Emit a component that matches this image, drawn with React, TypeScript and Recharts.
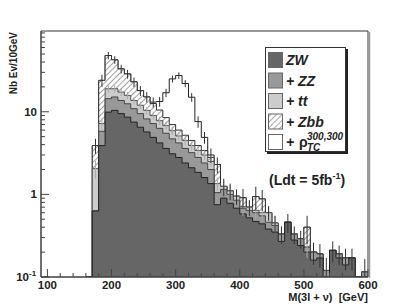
import { ComposedChart, Area, XAxis, YAxis, Scatter, ErrorBar, ReferenceArea } from "recharts";

// bin low edges, 10 GeV wide
const binLow = [
  160, 170, 180, 190, 200, 210, 220, 230, 240, 250,
  260, 270, 280, 290, 300, 310, 320, 330, 340, 350,
  360, 370, 380, 390, 400, 410, 420, 430, 440, 450,
  460, 470, 480, 490, 500, 510, 520, 530, 540, 550,
  560, 570, 580, 590,
];

// per-sample contents (events / 10 GeV)
const zw = [
  0, 0.63, 3.9, 9.9, 10.4, 9.5, 8.6, 7.5, 6.5, 5.7,
  4.9, 4.2, 3.6, 3.1, 2.8, 2.4, 2.1, 1.85, 1.6, 1.35,
  0.75, 0.9, 0.78, 0.68, 0.58, 0.52, 0.47, 0.44, 0.38, 0.35,
  0.27, 0.46, 0.28, 0.24, 0.2, 0.16, 0.17, 0, 0.21, 0.17,
  0.14, 0.17, 0, 0,
];
const zz = [
  0, 0, 1.9, 4.5, 4.7, 4.2, 3.9, 3.4, 3.0, 2.5,
  2.3, 2.1, 1.9, 1.6, 1.4, 1.2, 1.1, 0.95, 0.8, 0.65,
  0.3, 0.25, 0.22, 0.17, 0.1, 0.12, 0.13, 0.11, 0.08, 0.07,
  0.06, 0, 0.05, 0.05, 0.03, 0.04, 0.02, 0.12, 0, 0.02,
  0.03, 0, 0, 0.115,
];
const tt = [
  0, 1.42, 1.4, 4.6, 3.9, 3.6, 3.3, 2.8, 2.5, 2.2,
  1.8, 1.5, 1.3, 1.2, 0.9, 0.9, 0.7, 0.6, 0.6, 0.5,
  0.3, 0.1, 0.1, 0.1, 0.03, 0.06, 0.04, 0.05, 0.14, 0.03,
  0, 0, 0, 0, 0, 0, 0, 0, 0, 0,
  0, 0, 0, 0,
];
const zbb = [
  0, 1.85, 16.8, 29, 23.5, 15.7, 12.9, 9.3, 6, 4.7,
  3.6, 2.7, 1.7, 1.1, 0.9, 0.7, 0.6, 0.5, 0.4, 0.3,
  0.95, 0, 0, 0, 0.2, 0, 0.3, 0.28, 0, 0,
  0, 0, 0, 0, 0.17, 0, 0, 0, 0, 0,
  0, 0, 0, 0,
];
const rho = [
  0, 0, 0, 0, 0, 0, 0, 0, 0, 0,
  0.5, 2.8, 8.5, 18, 21.5, 16.8, 10.5, 3.7, 1.5, 0.2,
  0, 0, 0, 0, 0, 0, 0, 0, 0, 0,
  0, 0, 0, 0, 0, 0, 0, 0, 0, 0,
  0, 0, 0, 0,
];
// statistical error on the total
const totalErr = [
  0, 0.8, 4, 5, 4.5, 4, 3.5, 3, 2.5, 2.2,
  1.8, 1.8, 2, 2.4, 2.5, 2.2, 1.8, 1.2, 0.8, 0.6,
  0.5, 0.3, 0.25, 0.2, 0.25, 0.15, 0.3, 0.25, 0.12, 0.1,
  0.08, 0.12, 0.08, 0.07, 0.15, 0.06, 0.06, 0.05, 0.06, 0.05,
  0.05, 0.05, 0, 0.05,
];
// error on the ZW+ZZ+tt sum (grey bars)
const bkgErr = [
  0, 0.5, 1.2, 2, 2, 1.8, 1.6, 1.4, 1.2, 1.1,
  1, 0.9, 0.8, 0.7, 0.6, 0.6, 0.5, 0.45, 0.4, 0.35,
  0.25, 0.22, 0.2, 0.18, 0.16, 0.15, 0.14, 0.14, 0.12, 0.1,
  0.08, 0, 0, 0, 0.06, 0, 0, 0, 0, 0,
  0, 0, 0, 0,
];

const xTicks = [100, 120, 140, 160, 180, 200, 220, 240, 260, 280, 300, 320, 340, 360, 380, 400, 420, 440, 460, 480, 500, 520, 540, 560, 580, 600];
const yTicks = [0.1, 0.2, 0.3, 0.4, 0.5, 0.6, 0.7, 0.8, 0.9, 1, 2, 3, 4, 5, 6, 7, 8, 9, 10, 20, 30, 40, 50, 60, 70, 80, 90];

const FLOOR = 0.1;
const fl = (v: number) => Math.max(v, FLOOR);

const rows = binLow.map((lo, i) => {
  const c1 = zw[i];
  const c2 = c1 + zz[i];
  const c3 = c2 + tt[i];
  const c4 = c3 + zbb[i];
  const c5 = c4 + rho[i];
  return { x: lo, zw: fl(c1), zz: fl(c2), tt: fl(c3), zbb: fl(c4), rho: fl(c5), bkg: c3, total: c5 };
});
// close the last bin at its upper edge
rows.push({ ...rows[rows.length - 1], x: 600 });

const errRows = binLow
  .map((lo, i) => ({ lo, i }))
  .filter(({ i }) => totalErr[i] > 0)
  .map(({ lo, i }) => {
    const t = rows[i].total;
    return { x: lo + 5, total: t, err: [Math.min(totalErr[i], t - 0.101), totalErr[i]] };
  });

const bkgRows = binLow
  .map((lo, i) => ({ lo, i }))
  .filter(({ i }) => bkgErr[i] > 0)
  .map(({ lo, i }) => {
    const t = rows[i].bkg;
    return { x: lo + 5, bkg: t, err: [Math.min(bkgErr[i], t - 0.101), bkgErr[i]] };
  });

const FONT = '"Liberation Sans", Arial, Helvetica, sans-serif';
const INK = "#222";

const XTick = (props: any) => {
  const { x, y, payload } = props;
  const major = payload.value % 100 === 0;
  return (
    <g>
      <line x1={x} x2={x} y1={y} y2={y - (major ? 8 : 4)} stroke="#444" />
      {major && (
        <text x={x} y={y + 12} textAnchor="middle" fontSize={11.5} fontWeight="bold" fill={INK}>
          {payload.value}
        </text>
      )}
    </g>
  );
};

const YTick = (props: any) => {
  const { x, y, payload } = props;
  const v = payload.value;
  const major = v === 0.1 || v === 1 || v === 10;
  return (
    <g>
      <line x1={x} x2={x + (major ? 8 : 4)} y1={y} y2={y} stroke="#444" />
      {major && (
        <text x={v === 0.1 ? x - 12 : x - 4} y={y + 4} textAnchor="end" fontSize={11.5} fontWeight="bold" fill={INK}>
          {v === 0.1 ? "10" : v}
        </text>
      )}
      {v === 0.1 && (
        <text x={x - 12} y={y - 1} fontSize={8} fontWeight="bold" fill={INK}>
          -1
        </text>
      )}
    </g>
  );
};

const legendRows = [
  { label: "ZW", fill: "#666666" },
  { label: "+ ZZ", fill: "#999999" },
  { label: "+ tt", fill: "#cccccc" },
  { label: "+ Zbb", fill: "url(#hatchL)" },
  { label: "+ ", fill: "#ffffff" },
];

export default function App() {
  return (
    <div style={{ position: "absolute", left: 0, top: 0, width: 409, height: 308, background: "#fff", fontFamily: FONT }}>
      <ComposedChart width={409} height={308} data={rows} margin={{ top: 31, right: 41, bottom: 0, left: 0 }}>
        <defs>
          <pattern id="hatch" patternUnits="userSpaceOnUse" width="4" height="4" patternTransform="rotate(45)">
            <rect width="4" height="4" fill="#fff" />
            <line x1="0" y1="0" x2="0" y2="4" stroke="#444" strokeWidth="1" />
          </pattern>
        </defs>
        <XAxis
          dataKey="x"
          type="number"
          domain={[90, 600]}
          ticks={xTicks}
          interval={0}
          allowDataOverflow
          height={31}
          tickSize={0}
          tickMargin={0}
          tick={<XTick />}
          axisLine={{ stroke: "#444" }}
        />
        <YAxis
          scale="log"
          type="number"
          domain={[0.1, 95]}
          ticks={yTicks}
          interval={0}
          allowDataOverflow
          width={41}
          tickSize={0}
          tickMargin={0}
          tick={<YTick />}
          axisLine={{ stroke: "#444" }}
        />
        <Area type="stepAfter" dataKey="rho" fill="#ffffff" fillOpacity={1} stroke="#222" strokeWidth={1} isAnimationActive={false} dot={false} activeDot={false} />
        <Area type="stepAfter" dataKey="zbb" fill="url(#hatch)" fillOpacity={1} stroke="#333" strokeWidth={1} isAnimationActive={false} dot={false} activeDot={false} />
        <Area type="stepAfter" dataKey="tt" fill="#cccccc" fillOpacity={1} stroke="#555" strokeWidth={1} isAnimationActive={false} dot={false} activeDot={false} />
        <Area type="stepAfter" dataKey="zz" fill="#999999" fillOpacity={1} stroke="#444" strokeWidth={1} isAnimationActive={false} dot={false} activeDot={false} />
        <Area type="stepAfter" dataKey="zw" fill="#666666" fillOpacity={1} stroke="#222" strokeWidth={1} isAnimationActive={false} dot={false} activeDot={false} />
        <Scatter data={bkgRows} dataKey="bkg" shape={() => <g />} isAnimationActive={false}>
          <ErrorBar dataKey="err" direction="y" width={0} stroke="#aaa" strokeWidth={1} />
        </Scatter>
        <Scatter data={errRows} dataKey="total" shape={() => <g />} isAnimationActive={false}>
          <ErrorBar dataKey="err" direction="y" width={0} stroke="#333" strokeWidth={1} />
        </Scatter>
        <ReferenceArea x1={90} x2={600} y1={0.1} y2={95} fill="none" stroke="#333" strokeWidth={1} />
      </ComposedChart>

      <svg width={409} height={308} style={{ position: "absolute", left: 0, top: 0, pointerEvents: "none" }}>
        <defs>
          <pattern id="hatchL" patternUnits="userSpaceOnUse" width="4" height="4" patternTransform="rotate(45)">
            <rect width="4" height="4" fill="#fff" />
            <line x1="0" y1="0" x2="0" y2="4" stroke="#555" strokeWidth="1" />
          </pattern>
        </defs>
        {/* frame shadow */}
        <line x1={369.5} y1={32} x2={369.5} y2={278} stroke="#999" strokeWidth={1.5} />
        {/* legend */}
        <rect x={267} y={49} width={81} height={105} fill="#222" />
        <rect x={265.5} y={47.5} width={80} height={104} fill="#fff" stroke="#333" />
        {legendRows.map((r, i) => (
          <g key={r.label + i}>
            <rect x={268.5} y={52.5 + i * 20.5} width={14} height={15} fill={r.fill} stroke="#666" />
            <text x={286} y={65 + i * 20.5} fontSize={14} fontWeight="bold" fontStyle="italic" fill={INK} style={{ whiteSpace: "pre" }}>
              {r.label}
            </text>
          </g>
        ))}
        <text x={299} y={147} fontSize={14} fontWeight="bold" fill={INK}>ρ</text>
        <text x={307} y={140} fontSize={10} fontWeight="bold" fontStyle="italic" fill={INK}>300,300</text>
        <text x={307} y={151} fontSize={10} fontWeight="bold" fontStyle="italic" fill={INK}>TC</text>

        <text x={269} y={185} fontSize={14} fontWeight="bold" fill={INK}>
          (Ldt = 5fb
          <tspan fontSize={9} dy={-6}>-1</tspan>
          <tspan dy={6}>)</tspan>
        </text>

        <text x={17} y={32} transform="rotate(-90 17 32)" textAnchor="end" fontSize={10} fontWeight="bold" fill={INK}>
          Nb Ev/10GeV
        </text>
        <text x={368} y={301} textAnchor="end" fontSize={11} fontWeight="bold" fill={INK} style={{ whiteSpace: "pre" }}>
          {"M(3l + ν)  [GeV]"}
        </text>
      </svg>
    </div>
  );
}
